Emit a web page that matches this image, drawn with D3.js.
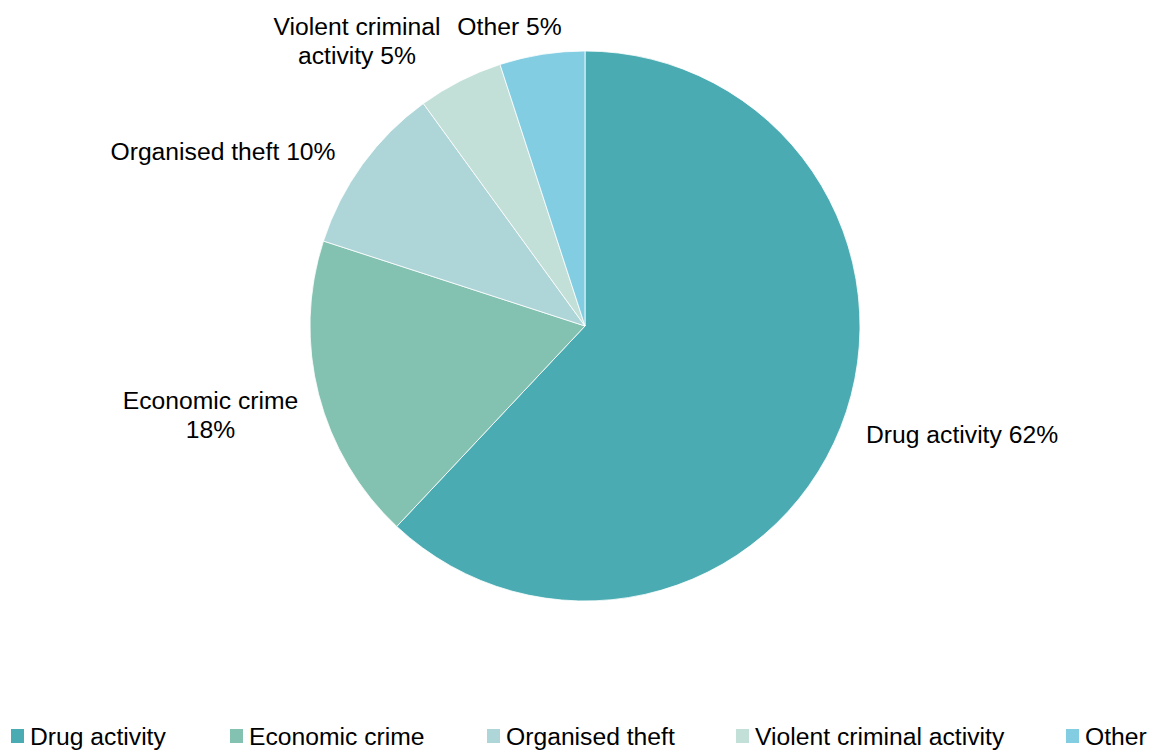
<!DOCTYPE html>
<html>
<head>
<meta charset="utf-8">
<script src="https://cdn.jsdelivr.net/npm/d3@7"></script>
<style>
  html, body { margin: 0; padding: 0; background: #fff; }
  svg { display: block; }
  text { font-family: "Liberation Sans", Arial, sans-serif; fill: #000; }
</style>
</head>
<body>
<svg id="chart" width="1149" height="751"></svg>
<script>
// Share of cases by type of criminal activity (%)
const categories = ["Drug activity", "Economic crime", "Organised theft", "Violent criminal activity", "Other"];
const shares = [62, 18, 10, 5, 5];
const sliceLabels = [
  ["Drug activity 62%"],
  ["Economic crime", "18%"],
  ["Organised theft 10%"],
  ["Violent criminal", "activity 5%"],
  ["Other 5%"]
];
const colors = ["#4AACB2", "#83C2B0", "#AED5D8", "#C2E0D8", "#82CDE2"];

// Layout
const W = 1149, H = 751;
const cx = 585, cy = 326, radius = 275;
const fontSize = 24.7;
const lineGap = 29;
// label anchor points relative to the pie centre (first line baseline)
const labelLayout = [
  { dx: 281, dy: 117, anchor: "start" },
  { dx: -374.5, dy: 83, anchor: "middle" },
  { dx: -362, dy: -166, anchor: "middle" },
  { dx: -228, dy: -291, anchor: "middle" },
  { dx: -75.5, dy: -291, anchor: "middle" }
];
const legendX = [11, 230, 487, 736, 1066];
const legendBaseline = 745;

const svg = d3.select("#chart");
const data = categories.map((c, i) => ({ name: c, value: shares[i], i }));

const color = d3.scaleOrdinal().domain(categories).range(colors);

const pie = d3.pie().value(d => d.value).sort(null).startAngle(0).endAngle(2 * Math.PI);
const arc = d3.arc().innerRadius(0).outerRadius(radius);

const g = svg.append("g").attr("transform", `translate(${cx},${cy})`);

g.selectAll("path.slice")
  .data(pie(data))
  .join("path")
  .attr("class", "slice")
  .attr("d", arc)
  .attr("fill", d => color(d.data.name))
  .attr("stroke", "#ffffff")
  .attr("stroke-width", 0.8);

// Slice labels
const lbl = g.selectAll("text.lbl")
  .data(data)
  .join("text")
  .attr("class", "lbl")
  .attr("font-size", fontSize)
  .attr("text-anchor", d => labelLayout[d.i].anchor)
  .attr("x", d => labelLayout[d.i].dx)
  .attr("y", d => labelLayout[d.i].dy);

lbl.each(function(d) {
  const t = d3.select(this);
  sliceLabels[d.i].forEach((line, k) => {
    t.append("tspan")
      .attr("x", labelLayout[d.i].dx)
      .attr("dy", k === 0 ? 0 : lineGap)
      .text(line);
  });
});

// Legend
const leg = svg.append("g").attr("class", "legend");
const items = leg.selectAll("g.item")
  .data(categories)
  .join("g")
  .attr("class", "item")
  .attr("transform", (d, i) => `translate(${legendX[i]},${legendBaseline})`);

items.append("rect")
  .attr("x", 0)
  .attr("y", -16)
  .attr("width", 13)
  .attr("height", 14)
  .attr("fill", d => color(d));

items.append("text")
  .attr("x", 19)
  .attr("y", 0)
  .attr("font-size", fontSize)
  .text(d => d);
</script>
</body>
</html>
